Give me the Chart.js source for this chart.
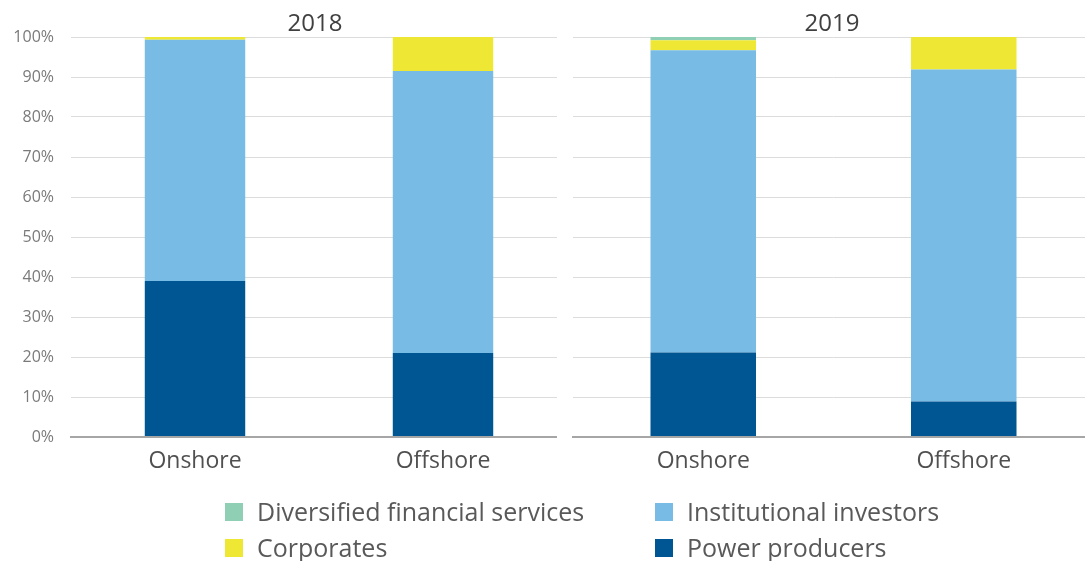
<!DOCTYPE html>
<html>
<head>
<meta charset="utf-8">
<script src="https://cdn.jsdelivr.net/npm/chart.js@4.4.1/dist/chart.umd.min.js"></script>
<style>
  html,body{margin:0;padding:0;background:#fff;width:1085px;height:561px;overflow:hidden;font-family:"Open Sans",Lato,sans-serif;position:relative;}
  .wrap{position:absolute;top:0;height:480px;background:#fff;}
  #w1{left:0;width:570px;}
  #w2{left:557px;width:540px;}
  .title{position:absolute;top:7px;font-size:24px;color:#404040;transform:translateX(-50%);line-height:30px;white-space:nowrap;}
  #legend{position:absolute;left:0;top:0;width:1085px;height:561px;pointer-events:none;}
  .item{position:absolute;display:flex;align-items:center;font-size:25px;color:#595959;white-space:nowrap;}
  .sw{width:18px;height:18px;margin-right:14px;}
</style>
</head>
<body>
<div class="wrap" id="w1"><canvas id="c1"></canvas></div>
<div class="wrap" id="w2"><canvas id="c2"></canvas></div>
<div class="title" id="t1" style="left:315px"></div>
<div class="title" id="t2" style="left:832px"></div>
<div id="legend"></div>
<script>
const categories = ["Onshore", "Offshore"];
const years = ["2018", "2019"];
const yTicks = [0,10,20,30,40,50,60,70,80,90,100];
const seriesNames = ["Power producers", "Institutional investors", "Corporates", "Diversified financial services"];
const seriesColors = ["#005593", "#78bce6", "#eee834", "#8fd0b4"];
// values per year [Onshore, Offshore]
const power2018 = [39, 21];
const institutional2018 = [60.3, 70.5];
const corporates2018 = [0.7, 8.5];
const diversified2018 = [0, 0];
const power2019 = [21.1, 8.9];
const institutional2019 = [75.6, 83.0];
const corporates2019 = [2.5, 8.1];
const diversified2019 = [0.8, 0];

const FONT = "'Open Sans', Lato, sans-serif";

document.getElementById('t1').textContent = years[0];
document.getElementById('t2').textContent = years[1];

function makeChart(id, data, showY, pad){
  const datasets = seriesNames.map((n,i)=>({
    label:n, data:data[i], backgroundColor:seriesColors[i], borderWidth:0,
    categoryPercentage:1, barPercentage:0.405
  }));
  return new Chart(document.getElementById(id), {
    type:'bar',
    data:{labels:categories, datasets},
    options:{
      responsive:true, maintainAspectRatio:false, animation:false,
      layout:{padding:pad},
      plugins:{ legend:{display:false}, tooltip:{enabled:false}, title:{display:false} },
      scales:{
        x:{stacked:true,
           grid:{display:false},
           border:{display:true,color:'#a6a6a6',width:2},
           ticks:{color:'#505050',font:{family:FONT,size:23},padding:3},
           afterFit:(s)=>{s.height=43;}
        },
        y:{stacked:true, min:0, max:100,
           afterBuildTicks:(s)=>{s.ticks=yTicks.map(v=>({value:v}));},
           border:{display:false},
           grid:{color:(c)=>c.tick && c.tick.value===0?'#a6a6a6':'#dcdcdc', lineWidth:(c)=>c.tick && c.tick.value===0?2:1, drawTicks:false},
           ticks:{display:showY, color:'#7a7a7a', font:{family:FONT,size:16}, padding:17, callback:(v)=>v+'%'},
           afterFit:(s)=>{s.width=showY?71:0;}
        }
      }
    }
  });
}

makeChart('c1', [power2018, institutional2018, corporates2018, diversified2018], true, {left:0,right:3,top:37,bottom:0});
makeChart('c2', [power2019, institutional2019, corporates2019, diversified2019], false, {left:16,right:3,top:37,bottom:0});

// legend
const legendOrder = [3,1,2,0];
const positions = [[225,512],[655,512],[225,548],[655,548]];
const lg = document.getElementById('legend');
legendOrder.forEach((si,k)=>{
  const d=document.createElement('div'); d.className='item';
  d.style.left=positions[k][0]+'px'; d.style.top=(positions[k][1]-17)+'px'; d.style.height='34px';
  const sw=document.createElement('div'); sw.className='sw'; sw.style.background=seriesColors[si];
  const t=document.createElement('span'); t.textContent=seriesNames[si]; t.style.lineHeight='34px'; t.style.marginTop='-3px';
  d.appendChild(sw); d.appendChild(t); lg.appendChild(d);
});
</script>
</body>
</html>
